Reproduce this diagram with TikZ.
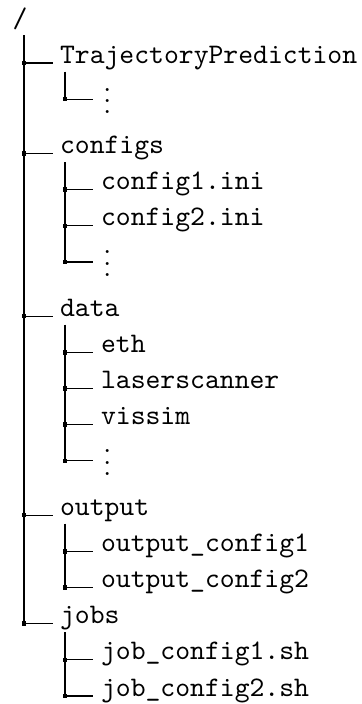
\documentclass[tikz,border=0pt]{standalone}
\begin{document}
% Directory tree of the project; one unit = 1/2.83 pt, y grows downward
\tikzset{
  rule/.style={line width=0.4pt},
  junc/.style={rectangle, fill=black, inner sep=0pt, minimum size=1.6pt},
  entry/.style={anchor=base west, inner sep=0pt, font=\ttfamily},
  more/.style={anchor=base west, inner sep=0pt},
  armA/.style={rule, shorten >=2.3pt},
  armB/.style={rule, shorten >=2.65pt},
  armV/.style={rule, shorten >=3.45pt},
}
\newcommand{\moreitems}{$\smash{\vdots}$}
\begin{tikzpicture}[x=0.3534pt, y=-0.3534pt]
\useasboundingbox (0,0) rectangle (361,704);

% root
\node[entry] (root) at (12,27.5) {/};
\coordinate (rootfoot) at (24,35);

% first level
\node[entry] (traj)    at (59.5,63.0)  {TrajectoryPrediction};
\node[entry] (configs) at (59.5,153.4) {configs};
\node[entry] (data)    at (59.5,316.2) {data};
\node[entry] (output)  at (59.5,515.1) {output};
\node[entry] (jobs)    at (59.5,623.6) {jobs};

\node[junc] (jtraj)    at (24,63.0)  {};
\node[junc] (jconfigs) at (24,153.4) {};
\node[junc] (jdata)    at (24,316.2) {};
\node[junc] (joutput)  at (24,515.1) {};
\node[junc] (jjobs)    at (24,623.6) {};

\draw[rule] (rootfoot) -- (jjobs.center);
\foreach \n in {traj,configs,data,output,jobs}
  \draw[armA] (j\n.center) -- (j\n.center -| \n.west);

% second level: TrajectoryPrediction
\node[more] (v1) at (102.8,113.9) {\moreitems};
\node[junc] (jv1) at (65,99.2) {};
\coordinate (ftraj) at (65,71.5);
\draw[rule] (ftraj) -- (jv1.center);
\draw[armV] (jv1.center) -- (jv1.center -| v1.west);

% second level: configs
\node[entry] (c1) at (100.5,189.6) {config1.ini};
\node[entry] (c2) at (100.5,225.8) {config2.ini};
\node[more]  (v2) at (102.8,276.5) {\moreitems};
\node[junc] (jc1) at (65,189.6) {};
\node[junc] (jc2) at (65,225.8) {};
\node[junc] (jv2) at (65,262.0) {};
\coordinate (fconfigs) at (65,162);
\draw[rule] (fconfigs) -- (jv2.center);
\foreach \n in {c1,c2} \draw[armB] (j\n.center) -- (j\n.center -| \n.west);
\draw[armV] (jv2.center) -- (jv2.center -| v2.west);

% second level: data
\node[entry] (eth)    at (100.5,352.4) {eth};
\node[entry] (laser)  at (100.5,388.5) {laserscanner};
\node[entry] (vissim) at (100.5,424.7) {vissim};
\node[more]  (v3)     at (102.8,475.4) {\moreitems};
\node[junc] (jeth)    at (65,352.4) {};
\node[junc] (jlaser)  at (65,388.5) {};
\node[junc] (jvissim) at (65,424.7) {};
\node[junc] (jv3)     at (65,460.9) {};
\coordinate (fdata) at (65,324.7);
\draw[rule] (fdata) -- (jv3.center);
\foreach \n in {eth,laser,vissim} \draw[armB] (j\n.center) -- (j\n.center -| \n.west);
\draw[armV] (jv3.center) -- (jv3.center -| v3.west);

% second level: output
\node[entry] (o1) at (100.5,551.3) {output\_config1};
\node[entry] (o2) at (100.5,587.4) {output\_config2};
\node[junc] (jo1) at (65,551.3) {};
\node[junc] (jo2) at (65,587.4) {};
\coordinate (foutput) at (65,523.6);
\draw[rule] (foutput) -- (jo2.center);
\foreach \n in {o1,o2} \draw[armB] (j\n.center) -- (j\n.center -| \n.west);

% second level: jobs
\node[entry] (b1) at (100.5,659.8) {job\_config1.sh};
\node[entry] (b2) at (100.5,696.0) {job\_config2.sh};
\node[junc] (jb1) at (65,659.8) {};
\node[junc] (jb2) at (65,696.0) {};
\coordinate (fjobs) at (65,632.1);
\draw[rule] (fjobs) -- (jb2.center);
\foreach \n in {b1,b2} \draw[armB] (j\n.center) -- (j\n.center -| \n.west);
\end{tikzpicture}
\end{document}
